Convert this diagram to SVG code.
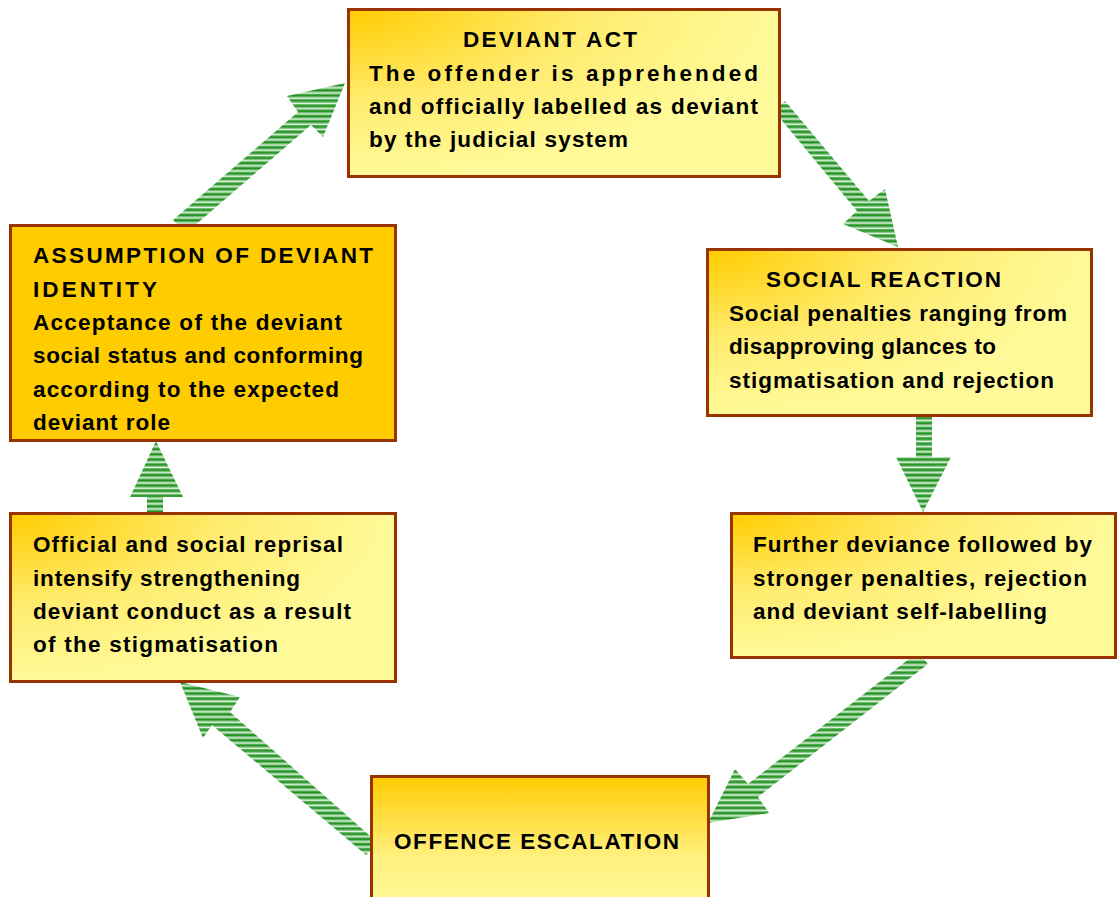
<svg xmlns="http://www.w3.org/2000/svg" width="1120" height="897" viewBox="0 0 1120 897">
<style>
.box{stroke:#993300;stroke-width:3}
.t{font-family:"Comic Sans MS","Liberation Sans",Arial,sans-serif;font-weight:bold;font-size:22.5px;fill:#000}
.arr{fill:url(#stripes)}
</style>
<defs>
<pattern id="stripes" patternUnits="userSpaceOnUse" x="0" y="0" width="10" height="5.2">
<rect width="10" height="5.2" fill="#E2F2E2"/>
<rect y="0" width="10" height="1" fill="#6FBF6F"/>
<rect y="1" width="10" height="2.2" fill="#1E8E1E"/>
<rect y="3.2" width="10" height="0.8" fill="#6FBF6F"/>
</pattern>
<radialGradient id="corner" cx="0" cy="0" r="1" fx="0" fy="0">
<stop offset="0" stop-color="#FFCC00"/>
<stop offset="0.55" stop-color="#FFEC70"/>
<stop offset="1" stop-color="#FFFA99"/>
</radialGradient>
<linearGradient id="vert" x1="0" y1="0" x2="0" y2="1">
<stop offset="0" stop-color="#FFCC00"/>
<stop offset="0.6" stop-color="#FFF080"/>
<stop offset="1" stop-color="#FFFA99"/>
</linearGradient>
</defs>
<rect width="1120" height="897" fill="#fff"/>
<g id="connectors">
<polygon class="arr" points="173,220 298,112 287,96 345,83 323,137 311,125 186,233"/>
<polygon class="arr" points="785,101 869,201 885,189 898,247 843,224 857,211 774,111"/>
<polygon class="arr" points="916,417 932,417 932,457 951,457 923,512 896,457 916,457"/>
<polygon class="arr" points="918,652 748,784 735,769 708,823 769,813 758,797 928,664"/>
<polygon class="arr" points="180,682 240,697 230,712 378,843 366,855 212,725 203,738"/>
<polygon class="arr" points="156,441 183,497 163,497 163,514 147,514 147,497 130,497"/>
</g>
<g id="deviant-act">
<rect class="box" x="348.5" y="9.5" width="431" height="167" fill="url(#corner)"/>
<text class="t" x="463" y="47" textLength="174" lengthAdjust="spacing">DEVIANT ACT</text>
<text class="t" x="369" y="81" textLength="389" lengthAdjust="spacing">The offender is apprehended</text>
<text class="t" x="369" y="114" textLength="389" lengthAdjust="spacing">and officially labelled as deviant</text>
<text class="t" x="369" y="147" textLength="259" lengthAdjust="spacing">by the judicial system</text>
</g>
<g id="social-reaction">
<rect class="box" x="707.5" y="249.5" width="384" height="166" fill="url(#corner)"/>
<text class="t" x="766" y="287" textLength="235" lengthAdjust="spacing">SOCIAL REACTION</text>
<text class="t" x="729" y="321" textLength="338" lengthAdjust="spacing">Social penalties ranging from</text>
<text class="t" x="729" y="354" textLength="267" lengthAdjust="spacing">disapproving glances to</text>
<text class="t" x="729" y="388" textLength="325" lengthAdjust="spacing">stigmatisation and rejection</text>
</g>
<g id="further-deviance">
<rect class="box" x="731.5" y="513.5" width="384" height="144" fill="url(#corner)"/>
<text class="t" x="753" y="552" textLength="339" lengthAdjust="spacing">Further deviance followed by</text>
<text class="t" x="753" y="586" textLength="334" lengthAdjust="spacing">stronger penalties, rejection</text>
<text class="t" x="753" y="619" textLength="294" lengthAdjust="spacing">and deviant self-labelling</text>
</g>
<g id="offence-escalation">
<rect class="box" x="371.5" y="776.5" width="337" height="135" fill="url(#vert)"/>
<text class="t" x="394" y="849" textLength="285" lengthAdjust="spacing">OFFENCE ESCALATION</text>
</g>
<g id="official-reprisal">
<rect class="box" x="10.5" y="513.5" width="385" height="168" fill="url(#corner)"/>
<text class="t" x="33" y="552" textLength="310" lengthAdjust="spacing">Official and social reprisal</text>
<text class="t" x="33" y="586" textLength="267" lengthAdjust="spacing">intensify strengthening</text>
<text class="t" x="33" y="619" textLength="318" lengthAdjust="spacing">deviant conduct as a result</text>
<text class="t" x="33" y="652" textLength="245" lengthAdjust="spacing">of the stigmatisation</text>
</g>
<g id="assumption">
<rect class="box" x="10.5" y="225.5" width="385" height="215" fill="#FFCC00"/>
<text class="t" x="33" y="263" textLength="340" lengthAdjust="spacing">ASSUMPTION OF DEVIANT</text>
<text class="t" x="33" y="297" textLength="124" lengthAdjust="spacing">IDENTITY</text>
<text class="t" x="33" y="330" textLength="309" lengthAdjust="spacing">Acceptance of the deviant</text>
<text class="t" x="33" y="363" textLength="330" lengthAdjust="spacing">social status and conforming</text>
<text class="t" x="33" y="397" textLength="306" lengthAdjust="spacing">according to the expected</text>
<text class="t" x="33" y="430" textLength="137" lengthAdjust="spacing">deviant role</text>
</g>
</svg>
